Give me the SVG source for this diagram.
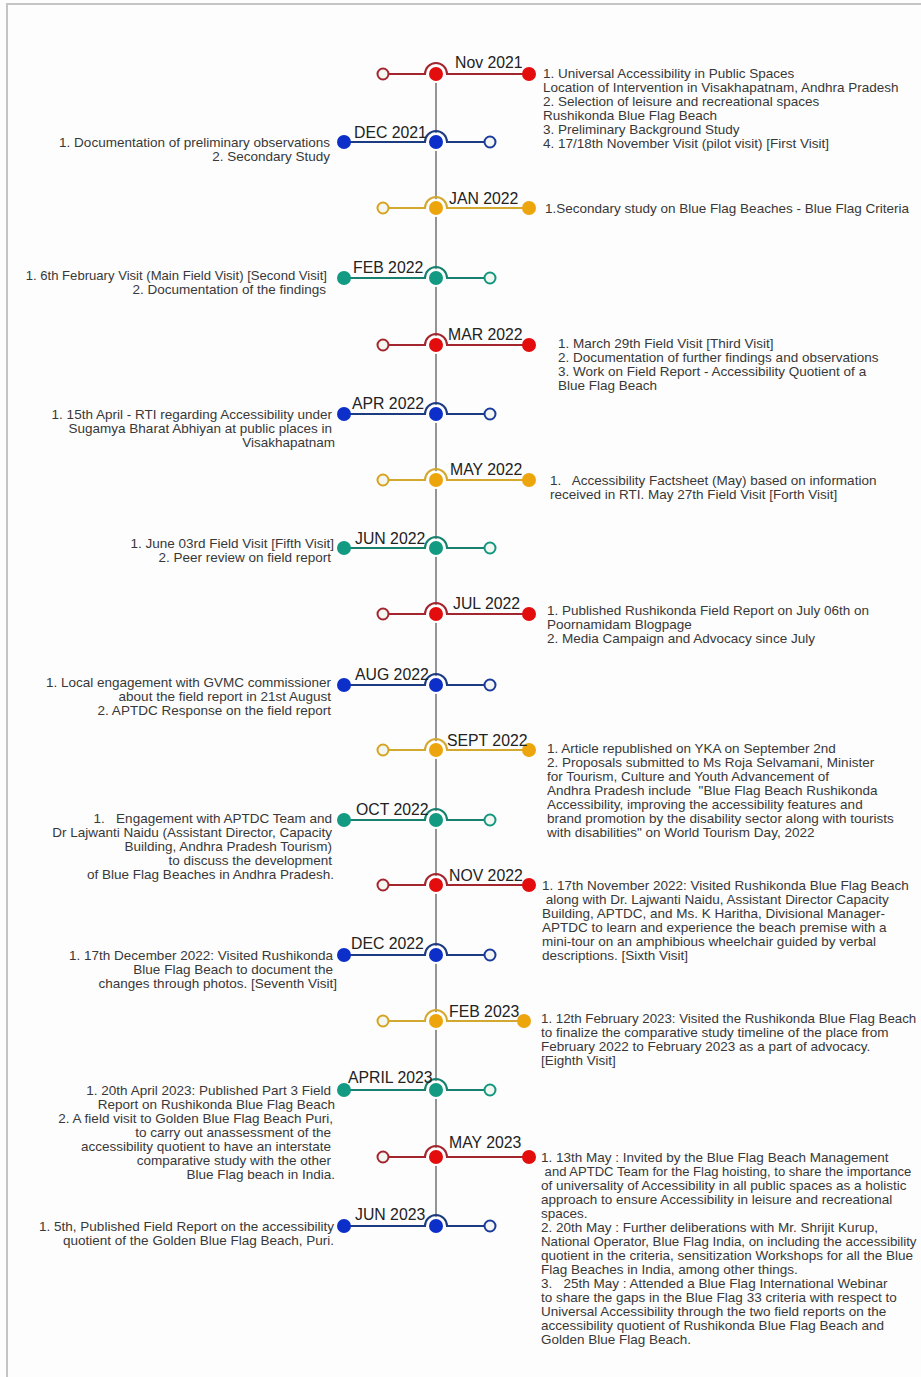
<svg xmlns="http://www.w3.org/2000/svg" width="921" height="1377" viewBox="0 0 921 1377">
<style>
.bg{fill:#fdfdfd}
.frame{stroke:#c4c4c4;stroke-width:2;fill:none}
.axis{stroke:#7a7a7a;stroke-width:1.6}
.ln{fill:none;stroke-width:2}
.hol{fill:#f4f6f2;stroke-width:2}
.ctr{stroke:#fff;stroke-width:2}
.red .ln{stroke:#a3262e}.red .hol{stroke:#a3262e}.red .dot,.red .ctr{fill:#e30d0d}
.blue .ln{stroke:#1d3b80}.blue .hol{stroke:#1a3a9c}.blue .dot,.blue .ctr{fill:#0b2fc8}
.yel .ln{stroke:#d2a82e}.yel .hol{stroke:#d6a31e}.yel .dot,.yel .ctr{fill:#eca50c}
.teal .ln{stroke:#17806f}.teal .hol{stroke:#12977f}.teal .dot,.teal .ctr{fill:#129a82}
.lbl{font-family:"Liberation Sans",Arial,sans-serif;font-size:15.8px;fill:#222}
.txt{font-family:"Liberation Sans",Arial,sans-serif;font-size:13.5px;fill:#383838;white-space:pre}
.l{text-anchor:end}
</style>
<rect class="bg" x="0" y="0" width="921" height="1377"/>
<path class="frame" d="M7 1377V4H921"/>
<g id="connectors">
<line class="axis" x1="436" y1="72" x2="436" y2="1226"/>
</g>

<g id="nov2021" class="red">
<path class="ln" d="M383 74H425A11 11 0 0 1 447 74H529"/>
<circle class="hol" cx="383" cy="74" r="5.5"/><circle class="dot" cx="529" cy="74" r="7"/><circle class="ctr" cx="436" cy="74" r="8"/>
<text class="lbl" x="455" y="68">Nov 2021</text>
<text class="txt" y="78"><tspan x="543">1. Universal Accessibility in Public Spaces</tspan><tspan x="543" dy="14">Location of Intervention in Visakhapatnam, Andhra Pradesh</tspan><tspan x="543" dy="14">2. Selection of leisure and recreational spaces</tspan><tspan x="543" dy="14">Rushikonda Blue Flag Beach</tspan><tspan x="543" dy="14">3. Preliminary Background Study</tspan><tspan x="543" dy="14">4. 17/18th November Visit (pilot visit) [First Visit]</tspan></text>
</g>

<g id="dec2021" class="blue">
<path class="ln" d="M344 142H425A11 11 0 0 1 447 142H490"/>
<circle class="dot" cx="344" cy="142" r="7"/><circle class="hol" cx="490" cy="142" r="5.5"/><circle class="ctr" cx="436" cy="142" r="8"/>
<text class="lbl" x="354" y="138">DEC 2021</text>
<text class="txt l" y="147"><tspan x="330">1. Documentation of preliminary observations</tspan><tspan x="330" dy="14">2. Secondary Study</tspan></text>
</g>

<g id="jan2022" class="yel">
<path class="ln" d="M383 208H425A11 11 0 0 1 447 208H529"/>
<circle class="hol" cx="383" cy="208" r="5.5"/><circle class="dot" cx="529" cy="208" r="7"/><circle class="ctr" cx="436" cy="208" r="8"/>
<text class="lbl" x="449" y="204">JAN 2022</text>
<text class="txt" x="545" y="213">1.Secondary study on Blue Flag Beaches - Blue Flag Criteria</text>
</g>

<g id="feb2022" class="teal">
<path class="ln" d="M344 278H425A11 11 0 0 1 447 278H490"/>
<circle class="dot" cx="344" cy="278" r="7"/><circle class="hol" cx="490" cy="278" r="5.5"/><circle class="ctr" cx="436" cy="278" r="8"/>
<text class="lbl" x="353" y="273">FEB 2022</text>
<text class="txt l" y="280"><tspan x="327" style="font-size:13.1px">1. 6th February Visit (Main Field Visit) [Second Visit]</tspan><tspan x="326" dy="14">2. Documentation of the findings</tspan></text>
</g>

<g id="mar2022" class="red">
<path class="ln" d="M383 345H425A11 11 0 0 1 447 345H529"/>
<circle class="hol" cx="383" cy="345" r="5.5"/><circle class="dot" cx="529" cy="345" r="7"/><circle class="ctr" cx="436" cy="345" r="8"/>
<text class="lbl" x="448" y="340">MAR 2022</text>
<text class="txt" y="348"><tspan x="558">1. March 29th Field Visit [Third Visit]</tspan><tspan x="558" dy="14">2. Documentation of further findings and observations</tspan><tspan x="558" dy="14">3. Work on Field Report - Accessibility Quotient of a</tspan><tspan x="558" dy="14">Blue Flag Beach</tspan></text>
</g>

<g id="apr2022" class="blue">
<path class="ln" d="M344 414H425A11 11 0 0 1 447 414H490"/>
<circle class="dot" cx="344" cy="414" r="7"/><circle class="hol" cx="490" cy="414" r="5.5"/><circle class="ctr" cx="436" cy="414" r="8"/>
<text class="lbl" x="352" y="409">APR 2022</text>
<text class="txt l" y="419"><tspan x="332">1. 15th April - RTI regarding Accessibility under</tspan><tspan x="332" dy="14">Sugamya Bharat Abhiyan at public places in</tspan><tspan x="335" dy="14">Visakhapatnam</tspan></text>
</g>

<g id="may2022" class="yel">
<path class="ln" d="M383 480H425A11 11 0 0 1 447 480H529"/>
<circle class="hol" cx="383" cy="480" r="5.5"/><circle class="dot" cx="529" cy="480" r="7"/><circle class="ctr" cx="436" cy="480" r="8"/>
<text class="lbl" x="450" y="475">MAY 2022</text>
<text class="txt" y="485"><tspan x="550">1.   Accessibility Factsheet (May) based on information</tspan><tspan x="550" dy="14">received in RTI. May 27th Field Visit [Forth Visit]</tspan></text>
</g>

<g id="jun2022" class="teal">
<path class="ln" d="M344 548H425A11 11 0 0 1 447 548H490"/>
<circle class="dot" cx="344" cy="548" r="7"/><circle class="hol" cx="490" cy="548" r="5.5"/><circle class="ctr" cx="436" cy="548" r="8"/>
<text class="lbl" x="355" y="544">JUN 2022</text>
<text class="txt l" y="548"><tspan x="334">1. June 03rd Field Visit [Fifth Visit]</tspan><tspan x="331" dy="14">2. Peer review on field report</tspan></text>
</g>

<g id="jul2022" class="red">
<path class="ln" d="M383 614H425A11 11 0 0 1 447 614H529"/>
<circle class="hol" cx="383" cy="614" r="5.5"/><circle class="dot" cx="529" cy="614" r="7"/><circle class="ctr" cx="436" cy="614" r="8"/>
<text class="lbl" x="453" y="609">JUL 2022</text>
<text class="txt" y="615"><tspan x="547">1. Published Rushikonda Field Report on July 06th on</tspan><tspan x="547" dy="14">Poornamidam Blogpage</tspan><tspan x="547" dy="14">2. Media Campaign and Advocacy since July</tspan></text>
</g>

<g id="aug2022" class="blue">
<path class="ln" d="M344 685H425A11 11 0 0 1 447 685H490"/>
<circle class="dot" cx="344" cy="685" r="7"/><circle class="hol" cx="490" cy="685" r="5.5"/><circle class="ctr" cx="436" cy="685" r="8"/>
<text class="lbl" x="355" y="680">AUG 2022</text>
<text class="txt l" y="687"><tspan x="331">1. Local engagement with GVMC commissioner</tspan><tspan x="331" dy="14">about the field report in 21st August</tspan><tspan x="331" dy="14">2. APTDC Response on the field report</tspan></text>
</g>

<g id="sept2022" class="yel">
<path class="ln" d="M383 750H425A11 11 0 0 1 447 750H529"/>
<circle class="hol" cx="383" cy="750" r="5.5"/><circle class="dot" cx="529" cy="750" r="7"/><circle class="ctr" cx="436" cy="750" r="8"/>
<text class="lbl" x="447" y="746">SEPT 2022</text>
<text class="txt" y="753"><tspan x="547">1. Article republished on YKA on September 2nd</tspan><tspan x="547" dy="14">2. Proposals submitted to Ms Roja Selvamani, Minister</tspan><tspan x="547" dy="14">for Tourism, Culture and Youth Advancement of</tspan><tspan x="547" dy="14">Andhra Pradesh include  "Blue Flag Beach Rushikonda</tspan><tspan x="547" dy="14">Accessibility, improving the accessibility features and</tspan><tspan x="547" dy="14">brand promotion by the disability sector along with tourists</tspan><tspan x="547" dy="14">with disabilities" on World Tourism Day, 2022</tspan></text>
</g>

<g id="oct2022" class="teal">
<path class="ln" d="M344 820H425A11 11 0 0 1 447 820H490"/>
<circle class="dot" cx="344" cy="820" r="7"/><circle class="hol" cx="490" cy="820" r="5.5"/><circle class="ctr" cx="436" cy="820" r="8"/>
<text class="lbl" x="356" y="815">OCT 2022</text>
<text class="txt l" y="823"><tspan x="332">1.   Engagement with APTDC Team and</tspan><tspan x="332" dy="14">Dr Lajwanti Naidu (Assistant Director, Capacity</tspan><tspan x="332" dy="14">Building, Andhra Pradesh Tourism)</tspan><tspan x="332" dy="14">to discuss the development</tspan><tspan x="334" dy="14">of Blue Flag Beaches in Andhra Pradesh.</tspan></text>
</g>

<g id="nov2022" class="red">
<path class="ln" d="M383 885H425A11 11 0 0 1 447 885H529"/>
<circle class="hol" cx="383" cy="885" r="5.5"/><circle class="dot" cx="529" cy="885" r="7"/><circle class="ctr" cx="436" cy="885" r="8"/>
<text class="lbl" x="449" y="881">NOV 2022</text>
<text class="txt" y="890"><tspan x="542">1. 17th November 2022: Visited Rushikonda Blue Flag Beach</tspan><tspan x="542" dy="14"> along with Dr. Lajwanti Naidu, Assistant Director Capacity</tspan><tspan x="542" dy="14">Building, APTDC, and Ms. K Haritha, Divisional Manager-</tspan><tspan x="542" dy="14">APTDC to learn and experience the beach premise with a</tspan><tspan x="542" dy="14">mini-tour on an amphibious wheelchair guided by verbal</tspan><tspan x="542" dy="14">descriptions. [Sixth Visit]</tspan></text>
</g>

<g id="dec2022" class="blue">
<path class="ln" d="M344 955H425A11 11 0 0 1 447 955H490"/>
<circle class="dot" cx="344" cy="955" r="7"/><circle class="hol" cx="490" cy="955" r="5.5"/><circle class="ctr" cx="436" cy="955" r="8"/>
<text class="lbl" x="351" y="949">DEC 2022</text>
<text class="txt l" y="960"><tspan x="333">1. 17th December 2022: Visited Rushikonda</tspan><tspan x="333" dy="14">Blue Flag Beach to document the</tspan><tspan x="337" dy="14">changes through photos. [Seventh Visit]</tspan></text>
</g>

<g id="feb2023" class="yel">
<path class="ln" d="M383 1021H425A11 11 0 0 1 447 1021H524"/>
<circle class="hol" cx="383" cy="1021" r="5.5"/><circle class="dot" cx="524" cy="1021" r="7"/><circle class="ctr" cx="436" cy="1021" r="8"/>
<text class="lbl" x="449" y="1017">FEB 2023</text>
<text class="txt" y="1023"><tspan x="541" style="font-size:13.3px">1. 12th February 2023: Visited the Rushikonda Blue Flag Beach</tspan><tspan x="541" dy="14">to finalize the comparative study timeline of the place from</tspan><tspan x="541" dy="14">February 2022 to February 2023 as a part of advocacy.</tspan><tspan x="541" dy="14">[Eighth Visit]</tspan></text>
</g>

<g id="apr2023" class="teal">
<path class="ln" d="M344 1090H425A11 11 0 0 1 447 1090H490"/>
<circle class="dot" cx="344" cy="1090" r="7"/><circle class="hol" cx="490" cy="1090" r="5.5"/><circle class="ctr" cx="436" cy="1090" r="8"/>
<text class="lbl" x="348" y="1083">APRIL 2023</text>
<text class="txt l" y="1095"><tspan x="331">1. 20th April 2023: Published Part 3 Field</tspan><tspan x="335" dy="14">Report on Rushikonda Blue Flag Beach</tspan><tspan x="333" dy="14">2. A field visit to Golden Blue Flag Beach Puri,</tspan><tspan x="331" dy="14">to carry out anassessment of the</tspan><tspan x="331" dy="14">accessibility quotient to have an interstate</tspan><tspan x="331" dy="14">comparative study with the other</tspan><tspan x="335" dy="14">Blue Flag beach in India.</tspan></text>
</g>

<g id="may2023" class="red">
<path class="ln" d="M383 1157H425A11 11 0 0 1 447 1157H529"/>
<circle class="hol" cx="383" cy="1157" r="5.5"/><circle class="dot" cx="529" cy="1157" r="7"/><circle class="ctr" cx="436" cy="1157" r="8"/>
<text class="lbl" x="449" y="1148">MAY 2023</text>
<text class="txt" y="1162"><tspan x="541">1. 13th May : Invited by the Blue Flag Beach Management</tspan><tspan x="541" dy="14" style="font-size:13.05px"> and APTDC Team for the Flag hoisting, to share the importance</tspan><tspan x="541" dy="14">of universality of Accessibility in all public spaces as a holistic</tspan><tspan x="541" dy="14">approach to ensure Accessibility in leisure and recreational</tspan><tspan x="541" dy="14">spaces.</tspan><tspan x="541" dy="14">2. 20th May : Further deliberations with Mr. Shrijit Kurup,</tspan><tspan x="541" dy="14" style="font-size:13.3px">National Operator, Blue Flag India, on including the accessibility</tspan><tspan x="541" dy="14">quotient in the criteria, sensitization Workshops for all the Blue</tspan><tspan x="541" dy="14">Flag Beaches in India, among other things.</tspan><tspan x="541" dy="14">3.   25th May : Attended a Blue Flag International Webinar</tspan><tspan x="541" dy="14">to share the gaps in the Blue Flag 33 criteria with respect to</tspan><tspan x="541" dy="14">Universal Accessibility through the two field reports on the</tspan><tspan x="541" dy="14">accessibility quotient of Rushikonda Blue Flag Beach and</tspan><tspan x="541" dy="14">Golden Blue Flag Beach.</tspan></text>
</g>

<g id="jun2023" class="blue">
<path class="ln" d="M344 1226H425A11 11 0 0 1 447 1226H490"/>
<circle class="dot" cx="344" cy="1226" r="7"/><circle class="hol" cx="490" cy="1226" r="5.5"/><circle class="ctr" cx="436" cy="1226" r="8"/>
<text class="lbl" x="355" y="1220">JUN 2023</text>
<text class="txt l" y="1231"><tspan x="334">1. 5th, Published Field Report on the accessibility</tspan><tspan x="334" dy="14">quotient of the Golden Blue Flag Beach, Puri.</tspan></text>
</g>
</svg>
